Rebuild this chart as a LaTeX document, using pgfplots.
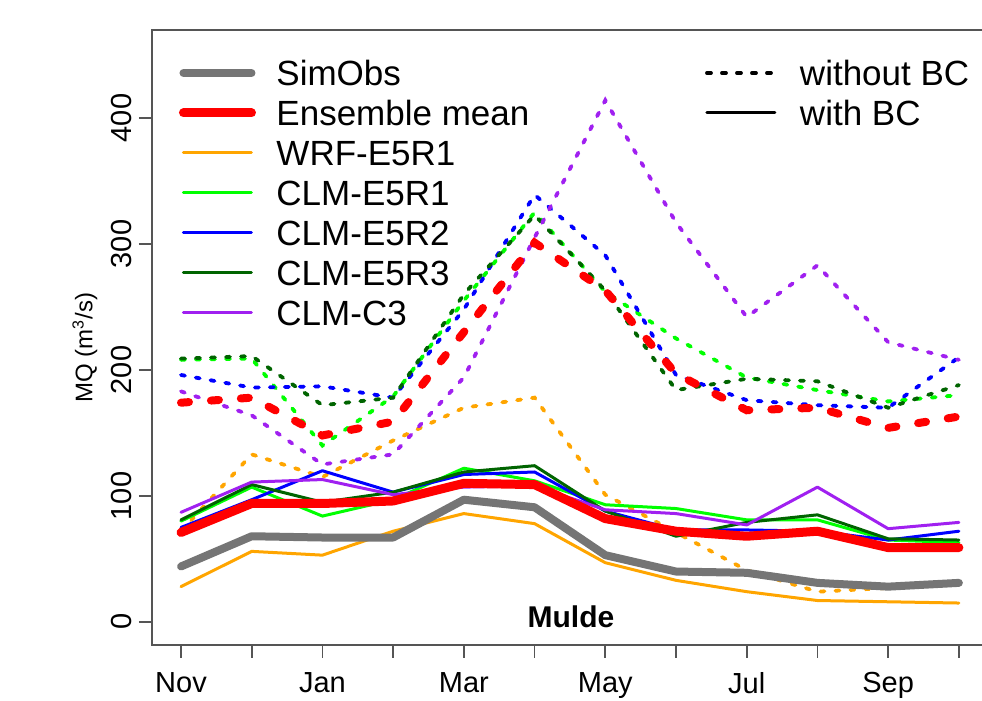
\documentclass[border=0pt]{standalone}
\usepackage{pgfplots}
\pgfplotsset{compat=1.18}
\usepackage{fontspec}
\setmainfont{Liberation Sans}
\definecolor{simgray}{RGB}{117,117,117}
\definecolor{rorange}{RGB}{255,165,0}
\definecolor{rgreen}{RGB}{0,255,0}
\definecolor{rblue}{RGB}{0,0,255}
\definecolor{rdkgreen}{RGB}{0,100,0}
\definecolor{rpurple}{RGB}{160,32,240}
\definecolor{framegray}{RGB}{85,85,85}
\pgfplotsset{
  thindash/.style={line width=1.9pt, dash pattern=on 2pt off 5.5pt, line cap=round},
  thickdash/.style={line width=4pt, dash pattern=on 4pt off 11pt, line cap=round},
  model/.style={line width=1.5pt, line join=round, line cap=round},
  base/.style={
    at={(76pt,28pt)}, anchor=south west,
    scale only axis, width=419pt, height=307.5pt,
    xmin=-0.41, xmax=11.44, ymin=-18.3, ymax=469.8,
  },
  mylegend/.style={
    legend style={draw=none, fill=none, anchor=north west,
      font=\fontsize{17.5}{20}\selectfont, inner sep=0pt, outer sep=0pt,
      nodes={inner sep=0pt, text height=16.3pt, text depth=3.7pt}, row sep=0pt},
    legend cell align=left,
    legend image code/.code={\draw[##1] (0pt,0pt) -- (34pt,0pt); \path[draw=none] (34pt,0pt) -- (46.5pt,0pt);},
  },
}
\begin{document}
\begin{tikzpicture}
\begin{axis}[base, mylegend,
  legend style={at={(axis description cs:0.0322,0.9626)}},
  axis line style={framegray, line width=0.9pt},
  tick style={framegray, line width=0.9pt},
  tick align=outside, major tick length=6.5pt,
  tick pos=left,
  xtick={0,1,2,3,4,5,6,7,8,9,10,11},
  xticklabels={Nov,,Jan,,Mar,,May,,Jul,,Sep,},
  ytick={0,100,200,300,400},
  /pgf/number format/assume math mode=true,
  tick label style={font=\fontsize{14.5}{16}\selectfont},
  xticklabel style={yshift=-3.5pt},
  yticklabel style={rotate=90, anchor=south},
  ylabel={MQ (m\textsuperscript{3}/s)},
  every axis y label/.style={at={(axis description cs:-0.08,0.483)}, rotate=90, anchor=center,
    font=\fontsize{12}{14}\selectfont},
]
\addlegendimage{simgray, line width=4pt, line cap=round}
\addlegendentry{SimObs}
\addlegendimage{red, line width=4.5pt, line cap=round}
\addlegendentry{Ensemble mean}
\addlegendimage{rorange, model}
\addlegendentry{WRF-E5R1}
\addlegendimage{rgreen, model}
\addlegendentry{CLM-E5R1}
\addlegendimage{rblue, model}
\addlegendentry{CLM-E5R2}
\addlegendimage{rdkgreen, model}
\addlegendentry{CLM-E5R3}
\addlegendimage{rpurple, model}
\addlegendentry{CLM-C3}

% without BC (dashed)
\addplot[forget plot, rorange, thindash] coordinates {(0,72) (1,133) (2,115) (3,144) (4,170) (5,178) (6,101) (7,71) (8,41) (9,24) (10,27) (11,32)};
\addplot[forget plot, rgreen, thindash] coordinates {(0,208) (1,209) (2,140) (3,179) (4,255) (5,325) (6,262) (7,225) (8,194) (9,184) (10,175) (11,180)};
\addplot[forget plot, rblue, thindash] coordinates {(0,196) (1,186) (2,187) (3,178) (4,248) (5,339) (6,291) (7,196) (8,176) (9,172) (10,170) (11,210)};
\addplot[forget plot, rdkgreen, thindash] coordinates {(0,209) (1,211) (2,172) (3,178) (4,260) (5,323) (6,263) (7,184) (8,193) (9,191) (10,170) (11,188)};
\addplot[forget plot, rpurple, thindash] coordinates {(0,183) (1,164) (2,125) (3,133) (4,194) (5,305) (6,414) (7,317) (8,242) (9,283) (10,222) (11,208)};
\addplot[forget plot, red, thickdash] coordinates {(0,174) (1,178) (2,148) (3,159) (4,230) (5,301) (6,263) (7,197) (8,168) (9,170) (10,154) (11,163)};

% with BC (solid)
\addplot[forget plot, rorange, model] coordinates {(0,28) (1,56) (2,53) (3,72) (4,86) (5,78) (6,47) (7,33) (8,24) (9,17) (10,16) (11,15)};
\addplot[forget plot, rgreen, model] coordinates {(0,80) (1,107) (2,84) (3,97) (4,122) (5,112) (6,93) (7,90) (8,81) (9,81) (10,65) (11,63)};
\addplot[forget plot, rblue, model] coordinates {(0,75) (1,97) (2,120) (3,103) (4,117) (5,119) (6,88) (7,73) (8,73) (9,72) (10,65) (11,72)};
\addplot[forget plot, rdkgreen, model] coordinates {(0,81) (1,109) (2,95) (3,103) (4,119) (5,124) (6,88) (7,68) (8,79) (9,85) (10,66) (11,65)};
\addplot[forget plot, rpurple, model] coordinates {(0,87) (1,111) (2,113) (3,101) (4,107) (5,108) (6,89) (7,86) (8,77) (9,107) (10,74) (11,79)};
\addplot[forget plot, simgray, line width=4pt, line join=round, line cap=round] coordinates {(0,44) (1,68) (2,67) (3,67) (4,97) (5,91) (6,53) (7,40) (8,39) (9,31) (10,28) (11,31)};
\addplot[forget plot, red, line width=4.5pt, line join=round, line cap=round] coordinates {(0,71) (1,94) (2,94) (3,96) (4,110) (5,109) (6,82) (7,72) (8,68) (9,72) (10,59) (11,59)};

\node[font=\bfseries\fontsize{15}{17}\selectfont] at (rel axis cs:0.5,0.0455) {Mulde};
\end{axis}
\begin{axis}[base, mylegend, hide axis,
  legend style={at={(axis description cs:0.660,0.9626)}}]
\addlegendimage{black, thindash}
\addlegendentry{without BC}
\addlegendimage{black, model}
\addlegendentry{with BC}
\end{axis}
\pgfresetboundingbox
\useasboundingbox (0,0) rectangle (491pt,350.5pt);
\end{tikzpicture}
\end{document}
